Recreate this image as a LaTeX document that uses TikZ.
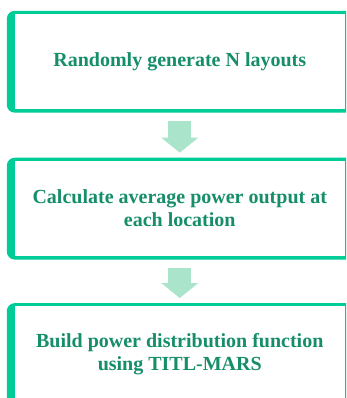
\documentclass[tikz,border=0pt]{standalone}
\usepackage{fontspec}
\setmainfont{Liberation Serif}
\usetikzlibrary{arrows.meta,positioning,backgrounds}

\definecolor{frameline}{RGB}{0,204,152}
\definecolor{flowfill}{RGB}{170,228,203}
\definecolor{steptext}{RGB}{22,142,106}

\begin{document}
\begin{tikzpicture}[x=1pt, y=-1pt,
  stepbox/.style={fill=white, inner sep=0pt, minimum width=329.5pt, minimum height=95.5pt,
    align=center, text=steptext, font=\fontsize{20}{23}\selectfont\bfseries},
  flow/.style={draw=flowfill, line width=23pt, shorten <=11pt, shorten >=8pt,
    -{Triangle[length=15pt 0 0, width=36pt 0 0]}}]
\useasboundingbox (0,0) rectangle (346,398);
\clip (0,0) rectangle (346,398);
\node[stepbox] (gen) at (179.75,61.75) {Randomly generate N layouts};
\node[stepbox, below=51pt of gen] (calc) {Calculate average power output at\\each location};
\node[stepbox, below=49.5pt of calc] (build) {Build power distribution function\\using TITL-MARS};
% frames behind the boxes
\begin{scope}[on background layer]
  \clip (0,0) rectangle (346,398);
  \foreach \n in {gen,calc,build}{
    \fill[frameline, rounded corners=8pt] ([xshift=-8pt,yshift=3pt]\n.north west) rectangle ([xshift=20pt,yshift=-3pt]\n.south east);
  }
\end{scope}
\draw[flow] (gen.south) -- (calc.north);
\draw[flow] (calc.south) -- (build.north);
\end{tikzpicture}
\end{document}
